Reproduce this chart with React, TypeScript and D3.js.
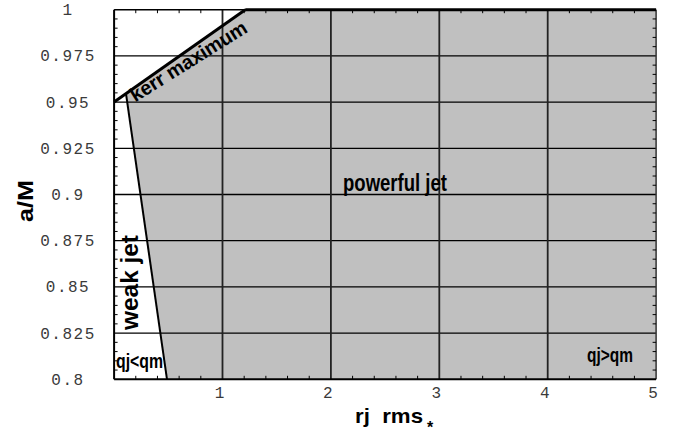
import React from "react";
import * as d3 from "d3";

const W = 673;
const H = 436;

// data
const xDomain = [0, 5];
const yDomain = [0.8, 1];
const xTickValues = [1, 2, 3, 4, 5];
const yTickValues = [0.8, 0.825, 0.85, 0.875, 0.9, 0.925, 0.95, 0.975, 1];
const yTickLabels = ["0.8", "0.825", "0.85", "0.875", "0.9", "0.925", "0.95", "0.975", "1"];
const kerrLine: [number, number][] = [[0, 0.95], [1.21, 1]];
const jetBoundary: [number, number][] = [[0.11, 0.9545], [0.488, 0.8]];
const xMinorStep = 0.2;
const yMinorStep = 0.005;

export default function App() {
  const x = d3.scaleLinear().domain(xDomain).range([114.1, 656.1]);
  const y = d3.scaleLinear().domain(yDomain).range([379.3, 9.7]);
  const line = d3.line<[number, number]>().x((d) => x(d[0])).y((d) => y(d[1]));

  const powerfulRegion: [number, number][] = [
    jetBoundary[0],
    kerrLine[1],
    [xDomain[1], yDomain[1]],
    [xDomain[1], yDomain[0]],
    jetBoundary[1],
  ];

  const xMinor: number[] = [];
  for (let i = 1; i < Math.round((xDomain[1] - xDomain[0]) / xMinorStep); i++) {
    const v = xDomain[0] + i * xMinorStep;
    if (Math.abs(v - Math.round(v)) > 1e-6) xMinor.push(v);
  }
  const yMinor: number[] = [];
  for (let i = 1; i < Math.round((yDomain[1] - yDomain[0]) / yMinorStep); i++) {
    const v = yDomain[0] + i * yMinorStep;
    if (Math.abs(v / 0.025 - Math.round(v / 0.025)) > 1e-6) yMinor.push(v);
  }

  const x0 = x(xDomain[0]);
  const x1 = x(xDomain[1]);
  const y0 = y(yDomain[0]);
  const y1 = y(yDomain[1]);

  const bold = { fontFamily: "'Liberation Sans', Arial, sans-serif", fontWeight: 700 as const };
  const mono = { fontFamily: "'Liberation Mono', 'DejaVu Sans Mono', monospace" };

  return (
    <svg width={W} height={H} style={{ position: "absolute", left: 0, top: 0, background: "#fff" }}>
      <rect x={0} y={0} width={W} height={H} fill="#fff" />
      <path d={line(powerfulRegion) + "Z"} fill="#c0c0c0" stroke="none" />
      {/* grid */}
      {yTickValues.slice(1, -1).map((v) => (
        <line key={"gy" + v} x1={x0} x2={x1} y1={y(v)} y2={y(v)} stroke="#000" strokeWidth={1.3} />
      ))}
      {xTickValues.slice(0, -1).map((v) => (
        <line key={"gx" + v} x1={x(v)} x2={x(v)} y1={y0} y2={y1} stroke="#222" strokeWidth={1.8} />
      ))}
      {/* boundary lines */}
      <path d={line(jetBoundary) || ""} stroke="#000" strokeWidth={2} fill="none" />
      {/* frame */}
      <line x1={x0} x2={x1} y1={y1} y2={y1} stroke="#000" strokeWidth={1.5} />
      <line x1={x1} x2={x1} y1={y1} y2={y0} stroke="#333" strokeWidth={1.5} />
      <line x1={x0} x2={x0} y1={y1} y2={y0} stroke="#000" strokeWidth={2} />
      <line x1={x0} x2={x1} y1={y0} y2={y0} stroke="#000" strokeWidth={2} />
      <path d={line(kerrLine) || ""} stroke="#000" strokeWidth={3} fill="none" />
      <line x1={x(kerrLine[1][0])} x2={x1} y1={y1} y2={y1} stroke="#000" strokeWidth={3} />
      {/* minor ticks */}
      {xMinor.map((v) => (
        <g key={"mx" + v}>
          <line x1={x(v)} x2={x(v)} y1={y0} y2={y0 - 3.5} stroke="#000" strokeWidth={1} />
          <line x1={x(v)} x2={x(v)} y1={y1} y2={y1 + 3.5} stroke="#000" strokeWidth={1} />
        </g>
      ))}
      {yMinor.map((v) => (
        <g key={"my" + v}>
          <line x1={x0} x2={x0 + 3.5} y1={y(v)} y2={y(v)} stroke="#000" strokeWidth={1} />
          <line x1={x1} x2={x1 - 3.5} y1={y(v)} y2={y(v)} stroke="#000" strokeWidth={1} />
        </g>
      ))}
      {/* tick labels */}
      {yTickValues.map((v, i) => (
        <text
          key={"yl" + v}
          x={68}
          y={y(v) + 1.5}
          textAnchor="middle"
          dominantBaseline="central"
          fontSize={16}
          letterSpacing={1.5}
          fill="#3a3a3a"
          style={mono}
        >
          {yTickLabels[i]}
        </text>
      ))}
      {xTickValues.map((v) => (
        <text key={"xl" + v} x={x(v) - 3} y={398} textAnchor="middle" fontSize={16} fill="#3a3a3a" style={mono}>
          {String(v)}
        </text>
      ))}
      {/* axis titles */}
      <text
        transform="translate(33,201) rotate(-90)"
        textAnchor="middle"
        fontSize={22}
        textLength={42}
        lengthAdjust="spacingAndGlyphs"
        style={bold}
      >
        a/M
      </text>
      <text x={355} y={423} fontSize={21} textLength={68} lengthAdjust="spacingAndGlyphs" style={bold} xmlSpace="preserve">
        rj  rms
      </text>
      <text x={430} y={432.5} textAnchor="middle" fontSize={16} style={bold}>
        *
      </text>
      {/* region labels */}
      <text
        transform="translate(192,67) rotate(-32)"
        textAnchor="middle"
        fontSize={20}
        textLength={134}
        lengthAdjust="spacingAndGlyphs"
        style={bold}
      >
        kerr maximum
      </text>
      <text x={343} y={191} fontSize={23} textLength={104} lengthAdjust="spacingAndGlyphs" style={bold}>
        powerful jet
      </text>
      <text
        transform="translate(138,282.5) rotate(-90)"
        textAnchor="middle"
        fontSize={23}
        textLength={95}
        lengthAdjust="spacingAndGlyphs"
        style={bold}
      >
        weak jet
      </text>
      <text x={116} y={368} fontSize={20} textLength={47} lengthAdjust="spacingAndGlyphs" style={bold}>
        qj&lt;qm
      </text>
      <text x={587} y={362} fontSize={20} textLength={46} lengthAdjust="spacingAndGlyphs" style={bold}>
        qj&gt;qm
      </text>
    </svg>
  );
}
